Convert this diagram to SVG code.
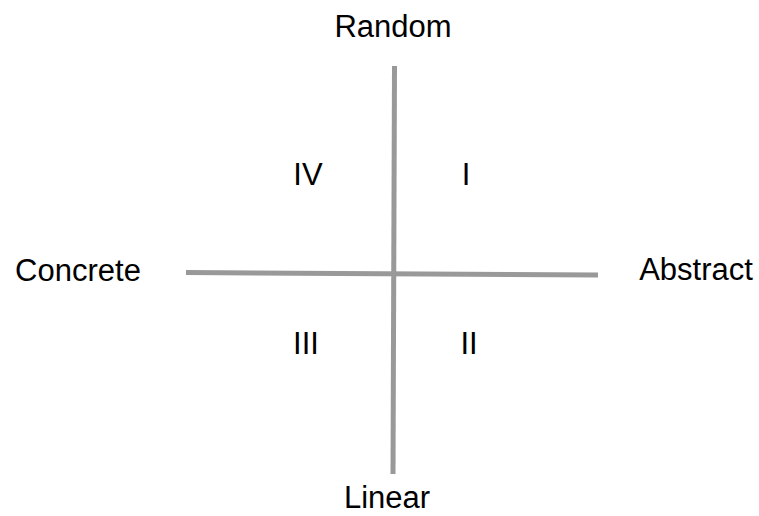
<svg xmlns="http://www.w3.org/2000/svg" width="759" height="516" viewBox="0 0 759 516">
<style>
text{font-family:"Liberation Sans",Arial,sans-serif;font-size:31px;fill:#000;text-anchor:middle}
.ax{stroke:#999;stroke-width:5;fill:none}
</style>
<rect width="759" height="516" fill="#fff"/>
<g id="connectors">
<line class="ax" x1="394.5" y1="66" x2="393" y2="474"/>
<line class="ax" x1="186" y1="272.5" x2="598" y2="275"/>
</g>
<g id="random"><text x="393" y="37">Random</text></g>
<g id="linear"><text x="387" y="508">Linear</text></g>
<g id="concrete"><text x="78" y="281">Concrete</text></g>
<g id="abstract"><text x="696" y="280">Abstract</text></g>
<g id="q4"><text x="308" y="185">IV</text></g>
<g id="q1"><text x="466" y="185">I</text></g>
<g id="q3"><text x="306" y="354">III</text></g>
<g id="q2"><text x="469" y="354">II</text></g>
</svg>
